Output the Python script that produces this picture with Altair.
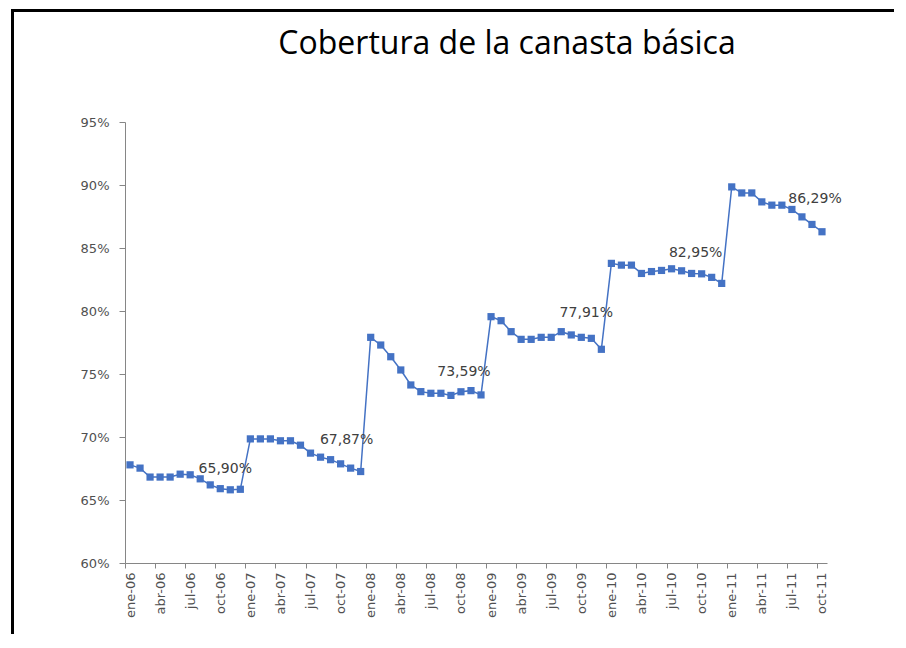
import altair as alt
import pandas as pd

# ---- data (percent values) ----
MONTHS = ["ene", "feb", "mar", "abr", "may", "jun", "jul", "ago", "sep", "oct", "nov", "dic"]
YEARS = ["06", "07", "08", "09", "10", "11"]

v2006 = [67.79, 67.53, 66.82, 66.82, 66.82, 67.05, 67.00, 66.68, 66.20, 65.90, 65.81, 65.85]
v2007 = [69.85, 69.85, 69.85, 69.70, 69.70, 69.35, 68.72, 68.40, 68.20, 67.87, 67.53, 67.26]
v2008 = [77.91, 77.30, 76.37, 75.32, 74.13, 73.60, 73.47, 73.47, 73.30, 73.59, 73.68, 73.34]
v2009 = [79.55, 79.23, 78.36, 77.75, 77.75, 77.91, 77.91, 78.36, 78.10, 77.91, 77.83, 76.96]
v2010 = [83.78, 83.64, 83.64, 82.98, 83.13, 83.22, 83.35, 83.19, 82.98, 82.95, 82.67, 82.19]
v2011 = [89.85, 89.37, 89.37, 88.66, 88.40, 88.40, 88.06, 87.47, 86.87, 86.29]

label_months = ["oct-06", "oct-07", "oct-08", "oct-09", "oct-10", "oct-11"]
label_texts = ["65,90%", "67,87%", "73,59%", "77,91%", "82,95%", "86,29%"]

y_ticks = [0.60, 0.65, 0.70, 0.75, 0.80, 0.85, 0.90, 0.95]

values = v2006 + v2007 + v2008 + v2009 + v2010 + v2011
categories = [f"{m}-{y}" for y in YEARS for m in MONTHS][: len(values)]
x_tick_labels = categories[::3]

df = pd.DataFrame({"mes": categories, "valor": [v / 100 for v in values]})

# ---- styles ----
BLUE = "#4472C4"
AXIS_GREY = "#868686"
TEXT_GREY = "#505050"
W, H = 702, 441
STEP = W / len(categories)
LABEL_OFFSETS = [(5, -20), (6, -24), (3, -20), (5, -24), (-6, -21), (-7, -33)]

x_enc = alt.X(
    "mes:O",
    sort=categories,
    scale=alt.Scale(type="point", padding=0.5),
    axis=alt.Axis(
        values=x_tick_labels,
        labelAngle=270,
        title=None,
        tickOffset=-STEP / 2,
        labelOffset=STEP / 2,
        domainColor=AXIS_GREY,
        tickColor=AXIS_GREY,
        tickSize=5,
        labelFont="DejaVu Sans",
        labelFontSize=13,
        labelColor=TEXT_GREY,
        labelPadding=4,
    ),
)
y_enc = alt.Y(
    "valor:Q",
    scale=alt.Scale(domain=[0.60, 0.95], nice=False, zero=False),
    axis=alt.Axis(
        values=y_ticks,
        format=".0%",
        title=None,
        grid=False,
        domainColor=AXIS_GREY,
        tickColor=AXIS_GREY,
        tickSize=6,
        labelFont="DejaVu Sans",
        labelFontSize=13,
        labelColor=TEXT_GREY,
        labelPadding=10,
    ),
)

base = alt.Chart(df)
line = base.mark_line(color=BLUE, strokeWidth=1.5).encode(x=x_enc, y=y_enc)
points = base.mark_point(shape="square", filled=True, opacity=1, size=52, color=BLUE).encode(
    x=x_enc, y=y_enc
)

layers = [line, points]
lab_df = df.set_index("mes").loc[label_months].reset_index()
lab_df["texto"] = label_texts
for i, (dx, dy) in enumerate(LABEL_OFFSETS):
    layers.append(
        alt.Chart(lab_df.iloc[[i]])
        .mark_text(font="DejaVu Sans", fontSize=14, color="#404040", dx=dx, dy=dy, baseline="middle")
        .encode(x=alt.X("mes:O", sort=categories), y=alt.Y("valor:Q"), text="texto:N")
    )

one = pd.DataFrame({"a": [0]})
frame_left = alt.Chart(one).mark_rule(color="black", strokeWidth=3).encode(
    x=alt.value(-112.5), y=alt.value(-113), y2=alt.value(H + 200)
)
frame_top = alt.Chart(one).mark_rule(color="black", strokeWidth=3).encode(
    x=alt.value(-114), x2=alt.value(W + 200), y=alt.value(-111.5)
)
layers += [frame_left, frame_top]

chart = (
    alt.layer(*layers)
    .properties(
        width=W,
        height=H,
        title=alt.TitleParams(
            "Cobertura de la canasta básica",
            font="Open Sans",
            fontSize=32,
            fontWeight="normal",
            color="black",
            anchor="middle",
            frame="group",
            dx=31,
            offset=-78,
            baseline="alphabetic",
        ),
        autosize=alt.AutoSizeParams(type="none"),
        padding={"left": 117, "top": 114, "right": 886 - 117 - W, "bottom": 626 - 114 - H},
    )
    .configure(background="white", view=alt.ViewConfig(stroke=None, strokeWidth=0))
)

chart.save("out.html", embed_options={"renderer": "svg", "actions": False})
